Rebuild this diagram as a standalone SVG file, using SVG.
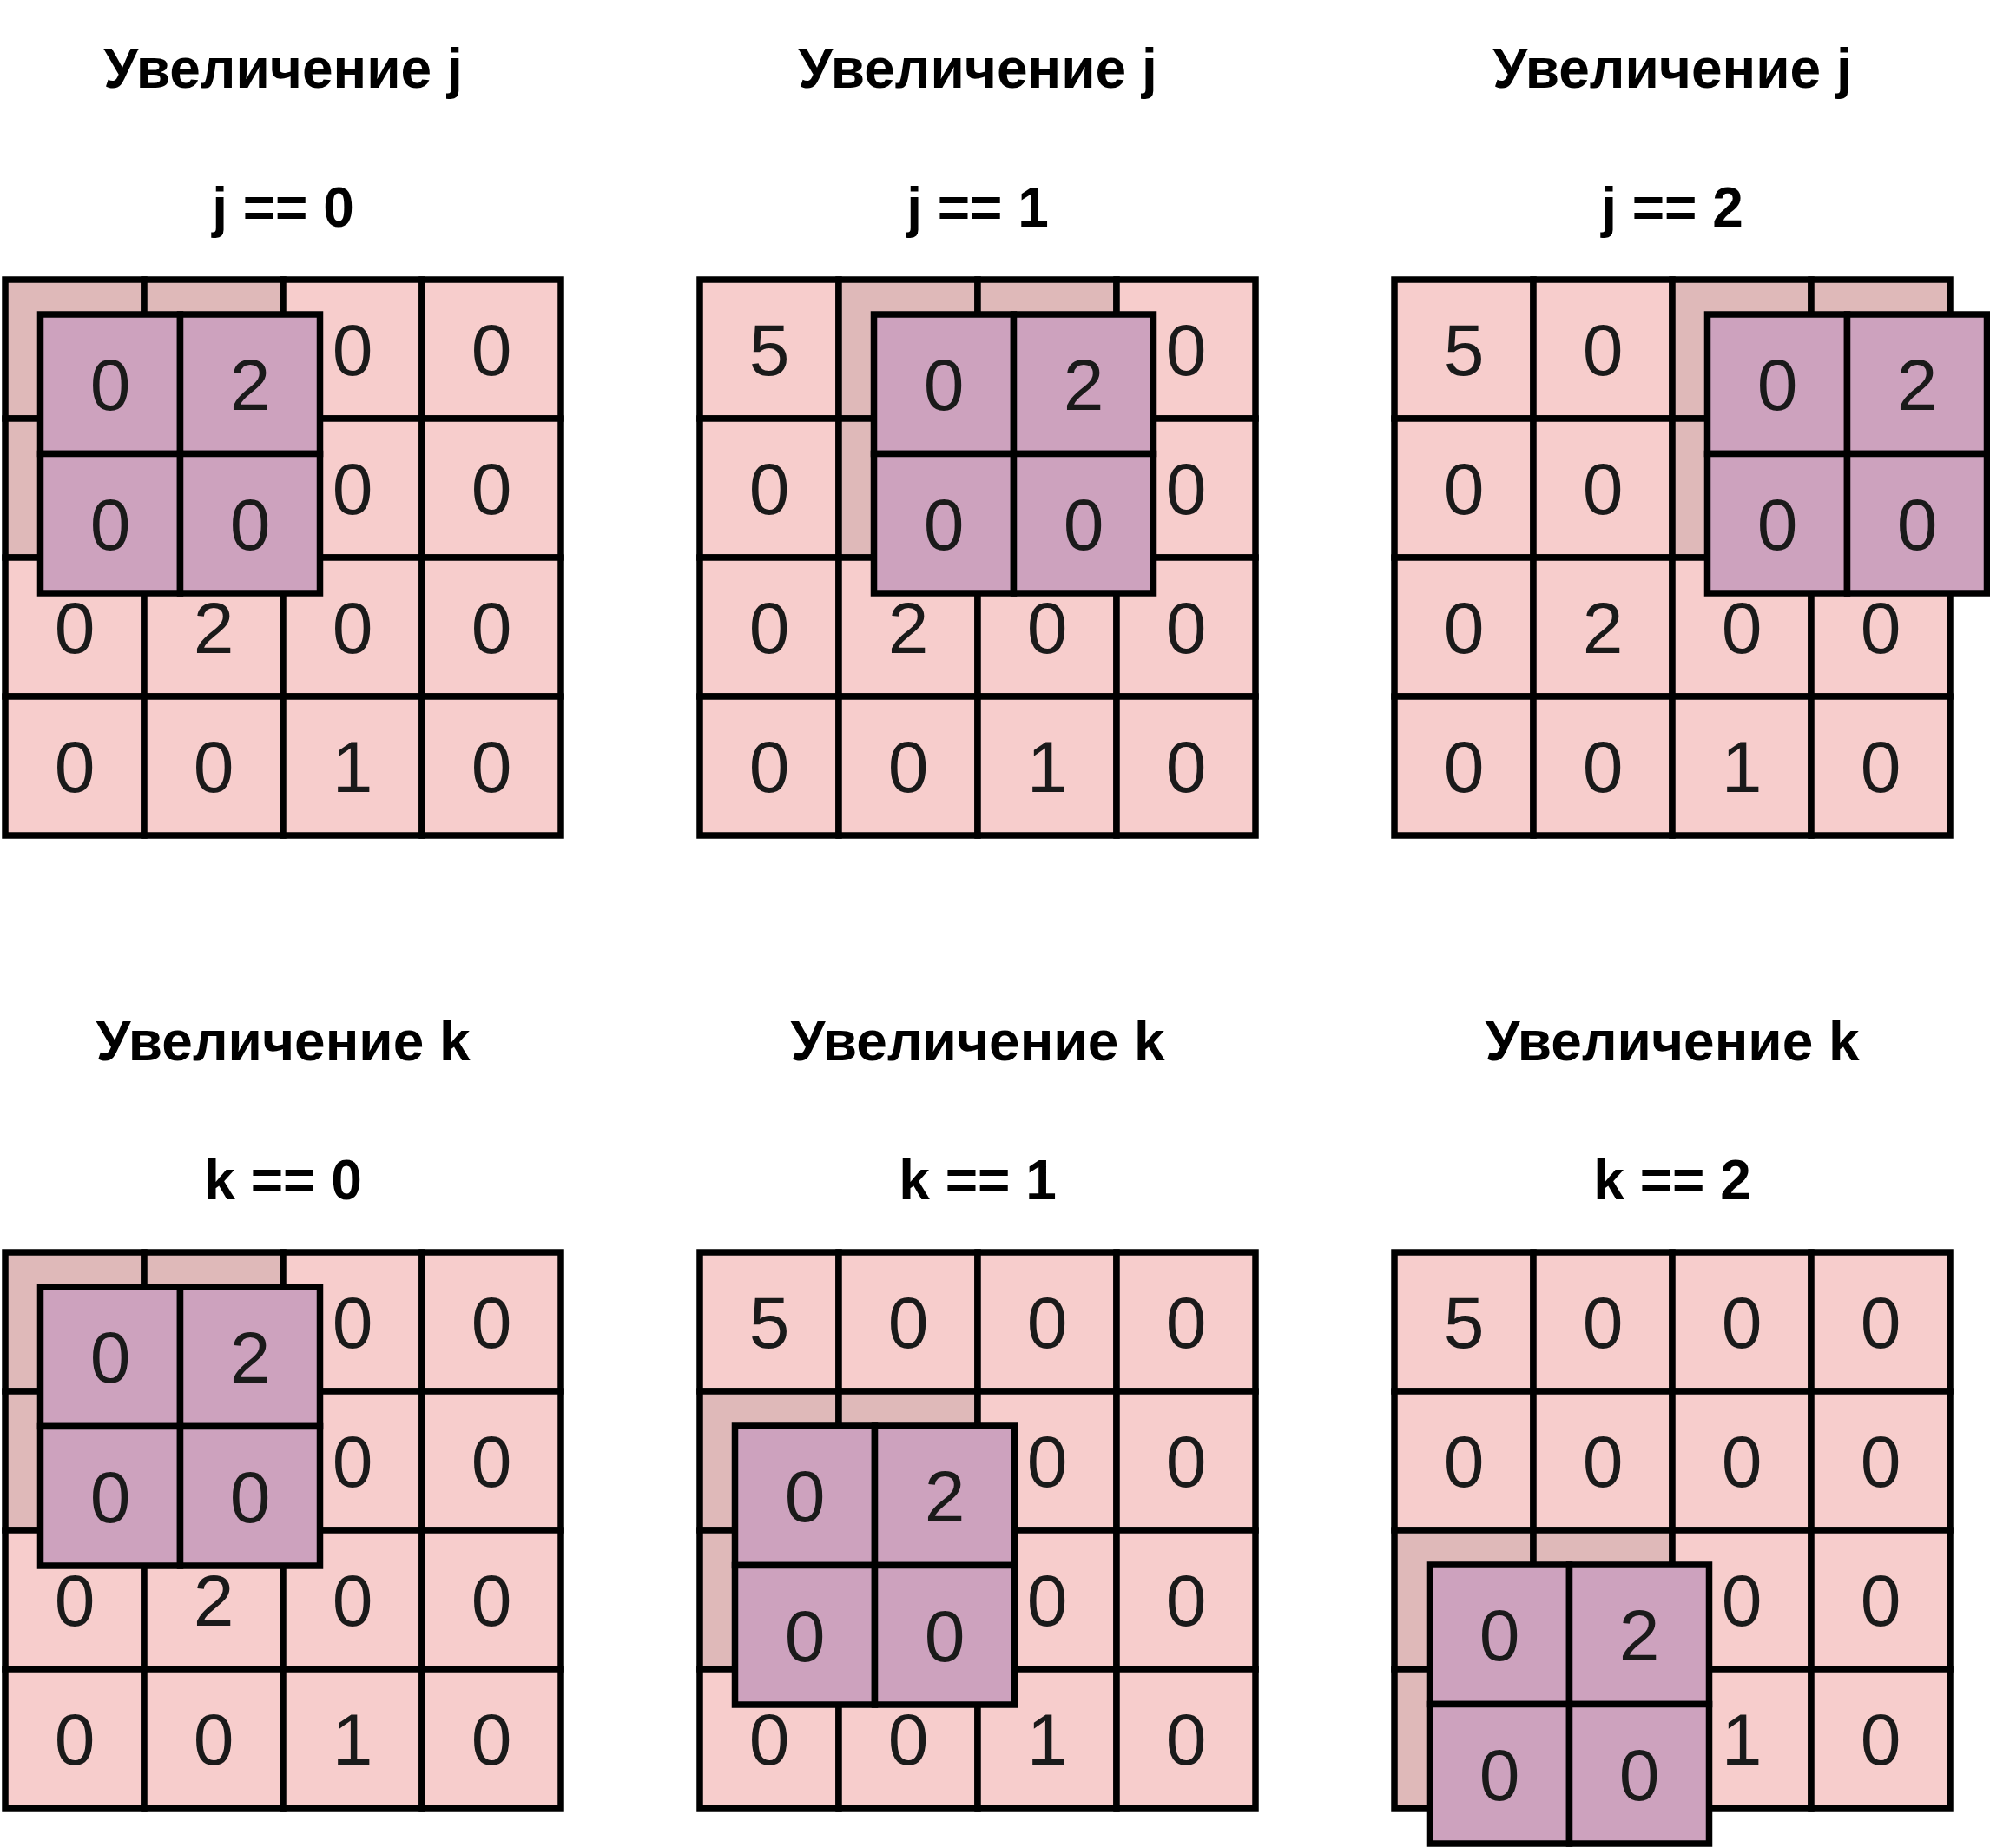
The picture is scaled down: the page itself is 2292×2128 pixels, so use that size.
<svg xmlns="http://www.w3.org/2000/svg" width="2292" height="2128" viewBox="0 0 2292 2128">
<style>
.cell{fill:#F7CDCC;stroke:#000;stroke-width:7.5}
.dark{fill:#DFB9B9;stroke:#000;stroke-width:7.5}
.ker{fill:#CDA2BE;stroke:#000;stroke-width:7.5}
.num{font-family:"Liberation Sans",Arial,sans-serif;font-size:84px;fill:#1A1A1A;text-anchor:middle}
.ttl{font-family:"Liberation Sans",Arial,sans-serif;font-size:64px;font-weight:bold;fill:#000;text-anchor:middle}
</style>
<defs>
<g id="kernel">
<rect class="ker" x="0" y="0" width="161" height="160.5"/>
<rect class="ker" x="161" y="0" width="161" height="160.5"/>
<rect class="ker" x="0" y="160.5" width="161" height="160.5"/>
<rect class="ker" x="161" y="160.5" width="161" height="160.5"/>
<text class="num" x="80.5" y="110.25">0</text>
<text class="num" x="241.5" y="110.25">2</text>
<text class="num" x="80.5" y="270.75">0</text>
<text class="num" x="241.5" y="270.75">0</text>
</g>
</defs>
<rect x="0" y="0" width="2292" height="2128" fill="#FFFFFF"/>
<g id="connectors"></g>

<!-- Panel 1: j == 0 -->
<g id="panel-j0">
<text class="ttl" x="326" y="101">Увеличение j</text>
<text class="ttl" x="326" y="261">j == 0</text>
<g transform="translate(6,322)">
<rect class="dark" x="0" y="0" width="160" height="160"/>
<rect class="dark" x="160" y="0" width="160" height="160"/>
<rect class="cell" x="320" y="0" width="160" height="160"/>
<rect class="cell" x="480" y="0" width="160" height="160"/>
<rect class="dark" x="0" y="160" width="160" height="160"/>
<rect class="dark" x="160" y="160" width="160" height="160"/>
<rect class="cell" x="320" y="160" width="160" height="160"/>
<rect class="cell" x="480" y="160" width="160" height="160"/>
<rect class="cell" x="0" y="320" width="160" height="160"/>
<rect class="cell" x="160" y="320" width="160" height="160"/>
<rect class="cell" x="320" y="320" width="160" height="160"/>
<rect class="cell" x="480" y="320" width="160" height="160"/>
<rect class="cell" x="0" y="480" width="160" height="160"/>
<rect class="cell" x="160" y="480" width="160" height="160"/>
<rect class="cell" x="320" y="480" width="160" height="160"/>
<rect class="cell" x="480" y="480" width="160" height="160"/>
<text class="num" x="400" y="110">0</text><text class="num" x="560" y="110">0</text>
<text class="num" x="400" y="270">0</text><text class="num" x="560" y="270">0</text>
<text class="num" x="80" y="430">0</text><text class="num" x="240" y="430">2</text><text class="num" x="400" y="430">0</text><text class="num" x="560" y="430">0</text>
<text class="num" x="80" y="590">0</text><text class="num" x="240" y="590">0</text><text class="num" x="400" y="590">1</text><text class="num" x="560" y="590">0</text>
<use href="#kernel" transform="translate(40.5,40)"/>
</g>
</g>

<!-- Panel 2: j == 1 -->
<g id="panel-j1">
<text class="ttl" x="1126" y="101">Увеличение j</text>
<text class="ttl" x="1126" y="261">j == 1</text>
<g transform="translate(806,322)">
<rect class="cell" x="0" y="0" width="160" height="160"/>
<rect class="dark" x="160" y="0" width="160" height="160"/>
<rect class="dark" x="320" y="0" width="160" height="160"/>
<rect class="cell" x="480" y="0" width="160" height="160"/>
<rect class="cell" x="0" y="160" width="160" height="160"/>
<rect class="dark" x="160" y="160" width="160" height="160"/>
<rect class="dark" x="320" y="160" width="160" height="160"/>
<rect class="cell" x="480" y="160" width="160" height="160"/>
<rect class="cell" x="0" y="320" width="160" height="160"/>
<rect class="cell" x="160" y="320" width="160" height="160"/>
<rect class="cell" x="320" y="320" width="160" height="160"/>
<rect class="cell" x="480" y="320" width="160" height="160"/>
<rect class="cell" x="0" y="480" width="160" height="160"/>
<rect class="cell" x="160" y="480" width="160" height="160"/>
<rect class="cell" x="320" y="480" width="160" height="160"/>
<rect class="cell" x="480" y="480" width="160" height="160"/>
<text class="num" x="80" y="110">5</text><text class="num" x="560" y="110">0</text>
<text class="num" x="80" y="270">0</text><text class="num" x="560" y="270">0</text>
<text class="num" x="80" y="430">0</text><text class="num" x="240" y="430">2</text><text class="num" x="400" y="430">0</text><text class="num" x="560" y="430">0</text>
<text class="num" x="80" y="590">0</text><text class="num" x="240" y="590">0</text><text class="num" x="400" y="590">1</text><text class="num" x="560" y="590">0</text>
<use href="#kernel" transform="translate(200.5,40)"/>
</g>
</g>

<!-- Panel 3: j == 2 -->
<g id="panel-j2">
<text class="ttl" x="1926" y="101">Увеличение j</text>
<text class="ttl" x="1926" y="261">j == 2</text>
<g transform="translate(1606,322)">
<rect class="cell" x="0" y="0" width="160" height="160"/>
<rect class="cell" x="160" y="0" width="160" height="160"/>
<rect class="dark" x="320" y="0" width="160" height="160"/>
<rect class="dark" x="480" y="0" width="160" height="160"/>
<rect class="cell" x="0" y="160" width="160" height="160"/>
<rect class="cell" x="160" y="160" width="160" height="160"/>
<rect class="dark" x="320" y="160" width="160" height="160"/>
<rect class="dark" x="480" y="160" width="160" height="160"/>
<rect class="cell" x="0" y="320" width="160" height="160"/>
<rect class="cell" x="160" y="320" width="160" height="160"/>
<rect class="cell" x="320" y="320" width="160" height="160"/>
<rect class="cell" x="480" y="320" width="160" height="160"/>
<rect class="cell" x="0" y="480" width="160" height="160"/>
<rect class="cell" x="160" y="480" width="160" height="160"/>
<rect class="cell" x="320" y="480" width="160" height="160"/>
<rect class="cell" x="480" y="480" width="160" height="160"/>
<text class="num" x="80" y="110">5</text><text class="num" x="240" y="110">0</text>
<text class="num" x="80" y="270">0</text><text class="num" x="240" y="270">0</text>
<text class="num" x="80" y="430">0</text><text class="num" x="240" y="430">2</text><text class="num" x="400" y="430">0</text><text class="num" x="560" y="430">0</text>
<text class="num" x="80" y="590">0</text><text class="num" x="240" y="590">0</text><text class="num" x="400" y="590">1</text><text class="num" x="560" y="590">0</text>
<use href="#kernel" transform="translate(360.5,40)"/>
</g>
</g>

<!-- Panel 4: k == 0 -->
<g id="panel-k0">
<text class="ttl" x="326" y="1221">Увеличение k</text>
<text class="ttl" x="326" y="1381">k == 0</text>
<g transform="translate(6,1442)">
<rect class="dark" x="0" y="0" width="160" height="160"/>
<rect class="dark" x="160" y="0" width="160" height="160"/>
<rect class="cell" x="320" y="0" width="160" height="160"/>
<rect class="cell" x="480" y="0" width="160" height="160"/>
<rect class="dark" x="0" y="160" width="160" height="160"/>
<rect class="dark" x="160" y="160" width="160" height="160"/>
<rect class="cell" x="320" y="160" width="160" height="160"/>
<rect class="cell" x="480" y="160" width="160" height="160"/>
<rect class="cell" x="0" y="320" width="160" height="160"/>
<rect class="cell" x="160" y="320" width="160" height="160"/>
<rect class="cell" x="320" y="320" width="160" height="160"/>
<rect class="cell" x="480" y="320" width="160" height="160"/>
<rect class="cell" x="0" y="480" width="160" height="160"/>
<rect class="cell" x="160" y="480" width="160" height="160"/>
<rect class="cell" x="320" y="480" width="160" height="160"/>
<rect class="cell" x="480" y="480" width="160" height="160"/>
<text class="num" x="400" y="110">0</text><text class="num" x="560" y="110">0</text>
<text class="num" x="400" y="270">0</text><text class="num" x="560" y="270">0</text>
<text class="num" x="80" y="430">0</text><text class="num" x="240" y="430">2</text><text class="num" x="400" y="430">0</text><text class="num" x="560" y="430">0</text>
<text class="num" x="80" y="590">0</text><text class="num" x="240" y="590">0</text><text class="num" x="400" y="590">1</text><text class="num" x="560" y="590">0</text>
<use href="#kernel" transform="translate(40.5,40)"/>
</g>
</g>

<!-- Panel 5: k == 1 -->
<g id="panel-k1">
<text class="ttl" x="1126" y="1221">Увеличение k</text>
<text class="ttl" x="1126" y="1381">k == 1</text>
<g transform="translate(806,1442)">
<rect class="cell" x="0" y="0" width="160" height="160"/>
<rect class="cell" x="160" y="0" width="160" height="160"/>
<rect class="cell" x="320" y="0" width="160" height="160"/>
<rect class="cell" x="480" y="0" width="160" height="160"/>
<rect class="dark" x="0" y="160" width="160" height="160"/>
<rect class="dark" x="160" y="160" width="160" height="160"/>
<rect class="cell" x="320" y="160" width="160" height="160"/>
<rect class="cell" x="480" y="160" width="160" height="160"/>
<rect class="dark" x="0" y="320" width="160" height="160"/>
<rect class="dark" x="160" y="320" width="160" height="160"/>
<rect class="cell" x="320" y="320" width="160" height="160"/>
<rect class="cell" x="480" y="320" width="160" height="160"/>
<rect class="cell" x="0" y="480" width="160" height="160"/>
<rect class="cell" x="160" y="480" width="160" height="160"/>
<rect class="cell" x="320" y="480" width="160" height="160"/>
<rect class="cell" x="480" y="480" width="160" height="160"/>
<text class="num" x="80" y="110">5</text><text class="num" x="240" y="110">0</text><text class="num" x="400" y="110">0</text><text class="num" x="560" y="110">0</text>
<text class="num" x="400" y="270">0</text><text class="num" x="560" y="270">0</text>
<text class="num" x="400" y="430">0</text><text class="num" x="560" y="430">0</text>
<text class="num" x="80" y="590">0</text><text class="num" x="240" y="590">0</text><text class="num" x="400" y="590">1</text><text class="num" x="560" y="590">0</text>
<use href="#kernel" transform="translate(40.5,200)"/>
</g>
</g>

<!-- Panel 6: k == 2 -->
<g id="panel-k2">
<text class="ttl" x="1926" y="1221">Увеличение k</text>
<text class="ttl" x="1926" y="1381">k == 2</text>
<g transform="translate(1606,1442)">
<rect class="cell" x="0" y="0" width="160" height="160"/>
<rect class="cell" x="160" y="0" width="160" height="160"/>
<rect class="cell" x="320" y="0" width="160" height="160"/>
<rect class="cell" x="480" y="0" width="160" height="160"/>
<rect class="cell" x="0" y="160" width="160" height="160"/>
<rect class="cell" x="160" y="160" width="160" height="160"/>
<rect class="cell" x="320" y="160" width="160" height="160"/>
<rect class="cell" x="480" y="160" width="160" height="160"/>
<rect class="dark" x="0" y="320" width="160" height="160"/>
<rect class="dark" x="160" y="320" width="160" height="160"/>
<rect class="cell" x="320" y="320" width="160" height="160"/>
<rect class="cell" x="480" y="320" width="160" height="160"/>
<rect class="dark" x="0" y="480" width="160" height="160"/>
<rect class="dark" x="160" y="480" width="160" height="160"/>
<rect class="cell" x="320" y="480" width="160" height="160"/>
<rect class="cell" x="480" y="480" width="160" height="160"/>
<text class="num" x="80" y="110">5</text><text class="num" x="240" y="110">0</text><text class="num" x="400" y="110">0</text><text class="num" x="560" y="110">0</text>
<text class="num" x="80" y="270">0</text><text class="num" x="240" y="270">0</text><text class="num" x="400" y="270">0</text><text class="num" x="560" y="270">0</text>
<text class="num" x="400" y="430">0</text><text class="num" x="560" y="430">0</text>
<text class="num" x="400" y="590">1</text><text class="num" x="560" y="590">0</text>
<use href="#kernel" transform="translate(40.5,360)"/>
</g>
</g>
</svg>
